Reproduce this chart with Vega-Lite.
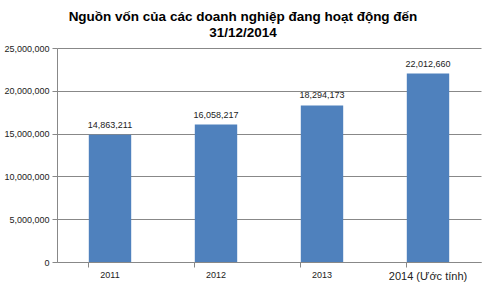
{
  "$schema": "https://vega.github.io/schema/vega-lite/v6.json",
  "autosize": {"type": "none"},
  "padding": {"left": 57, "top": 48, "right": 10, "bottom": 23},
  "width": 424,
  "height": 214,
  "background": "white",
  "title": {
    "text": ["Nguồn vốn của các doanh nghiệp đang hoạt động đến", "31/12/2014"],
    "font": "Liberation Sans",
    "fontSize": 13.5,
    "fontWeight": "bold",
    "color": "#000000",
    "anchor": "middle",
    "frame": "group",
    "dx": -26,
    "offset": 5,
    "lineHeight": 16
  },
  "data": {
    "values": [
      {"year": "2011", "value": 14863211},
      {"year": "2012", "value": 16058217},
      {"year": "2013", "value": 18294173},
      {"year": "2014 (Ước tính)", "value": 22012660}
    ]
  },
  "config": {
    "view": {"stroke": null},
    "font": "Liberation Sans"
  },
  "encoding": {
    "x": {
      "field": "year",
      "type": "nominal",
      "sort": null,
      "scale": {"paddingInner": 0.6, "paddingOuter": 0.3},
      "axis": {
        "title": null,
        "labelAngle": 0,
        "labelFont": "Liberation Sans",
        "labelFontSize": {"condition": {"test": "datum.value == '2014 (Ước tính)'", "value": 11}, "value": 9},
        "labelColor": "#222222",
        "labelPadding": 3,
        "domainColor": "#888888",
        "tickColor": "#888888",
        "tickSize": 5,
        "bandPosition": 0,
        "grid": false
      }
    }
  },
  "layer": [
    {
      "mark": {"type": "bar", "color": "#4F81BD"},
      "encoding": {
        "y": {
          "field": "value",
          "type": "quantitative",
          "scale": {"domain": [0, 25000000], "nice": false},
          "axis": {
            "title": null,
            "values": [0, 5000000, 10000000, 15000000, 20000000, 25000000],
            "format": ",d",
            "labelFont": "Liberation Sans",
            "labelFontSize": 9,
            "labelColor": "#222222",
            "labelPadding": 3,
            "domainColor": "#888888",
            "tickColor": "#888888",
            "tickSize": 5,
            "gridColor": "#888888",
            "gridWidth": 1
          }
        }
      }
    },
    {
      "mark": {"type": "text", "baseline": "bottom", "dy": -5, "fontSize": 9, "color": "#222222", "font": "Liberation Sans"},
      "encoding": {
        "y": {"field": "value", "type": "quantitative"},
        "text": {"field": "value", "type": "quantitative", "format": ",d"}
      }
    }
  ]
}
